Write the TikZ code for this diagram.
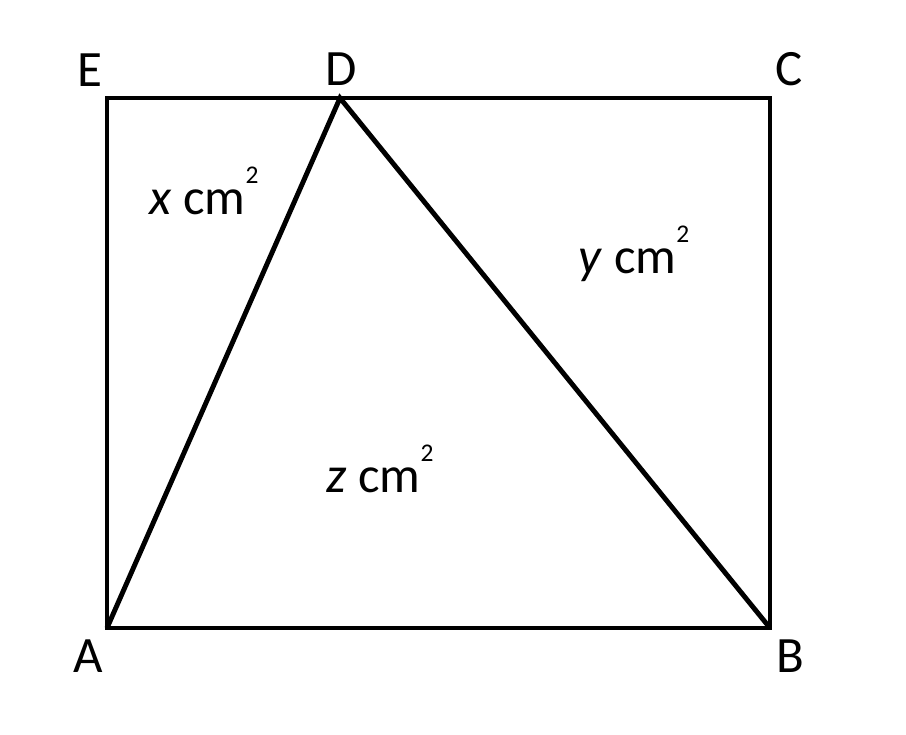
\documentclass[tikz,border=0pt]{standalone}
\usepackage{fontspec}
\setmainfont{Carlito}
\usepackage{tikz}
\usetikzlibrary{positioning}

\newcommand{\sqsup}{\raisebox{0.6em}{\fontsize{14.5}{16}\selectfont 2}}

\begin{document}
\begin{tikzpicture}[x=0.02cm,y=-0.02cm,line width=2.8pt,
  every node/.style={font=\fontsize{29}{33}\selectfont}]
  \useasboundingbox (0,0) rectangle (906,734);
  \coordinate (A) at (107,628);
  \coordinate (B) at (770,628);
  \coordinate (C) at (770,98);
  \coordinate (D) at (340,98);
  \coordinate (E) at (107,98);
  \draw[-,line join=miter](A)--(B)--(C)--(E)--cycle;
  \draw[-,line join=miter](A)--(D)--(B);
  \node (lE) at (90,70) {E};
  \node (lD) at (341,69) {D};
  \node (lC) at (789,69) {C};
  \node (lA) at (88,656) {A};
  \node (lB) at (790,656) {B};
  \node (x) at (204,191) {\textit{x} cm\sqsup};
  \node (y) at (634,254) {\textit{y} cm\sqsup};
  \node (z) at (380,469) {\textit{z} cm\sqsup};
\end{tikzpicture}
\end{document}
